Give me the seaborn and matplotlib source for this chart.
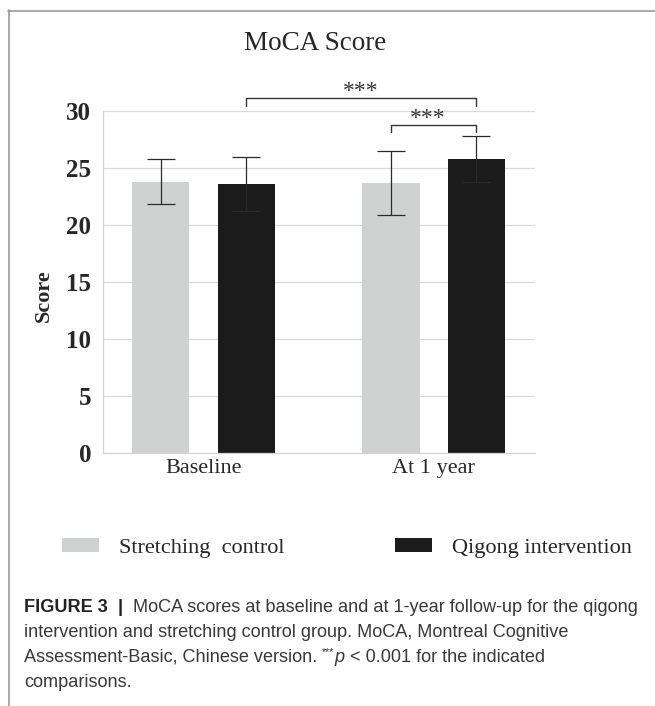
import pandas as pd
import matplotlib
matplotlib.use('Agg')
import matplotlib.pyplot as plt
from matplotlib.lines import Line2D
import seaborn as sns

sns.set_style('white')
plt.rcParams['font.family'] = ['Liberation Serif', 'DejaVu Serif']

# values (mean, SD)
timepoints = ['Baseline', 'At 1 year']
groups = ['Stretching  control', 'Qigong intervention']
stretch_mean = [23.8, 23.7]
stretch_sd = [2.0, 2.8]
qigong_mean = [23.6, 25.8]
qigong_sd = [2.4, 2.0]
colors = ['#D0D2D1', '#1B1B1B']

df = pd.DataFrame({
    'time': timepoints * 2,
    'group': [groups[0]] * 2 + [groups[1]] * 2,
    'score': stretch_mean + qigong_mean,
    'sd': stretch_sd + qigong_sd,
})

W, H = 655, 706
fig = plt.figure(figsize=(W / 100, H / 100), dpi=100)

def fx(px): return px / W
def fy(py): return 1 - py / H

ax = fig.add_axes([fx(103), fy(453), fx(535) - fx(103), fy(111) - fy(453)])
sns.barplot(data=df, x='time', y='score', hue='group', palette=colors,
            width=0.74, gap=0.33, errorbar=None, saturation=1, ax=ax,
            linewidth=0)

# error bars on top of the seaborn bars
for cont, g in zip(ax.containers, groups):
    sub = df[df['group'] == g]
    for bar, (_, row) in zip(cont, sub.iterrows()):
        xc = bar.get_x() + bar.get_width() / 2
        ax.errorbar(xc, row['score'], yerr=row['sd'], color='#2a2a2a',
                    elinewidth=0.9, capsize=10, capthick=0.9, zorder=5)

ax.set_ylim(0, 30)
ax.set_xlim(-0.437, 1.441)
ax.set_yticks([0, 5, 10, 15, 20, 25, 30])
ax.yaxis.grid(True, color='#D9D9D9', linewidth=0.9)
ax.set_axisbelow(True)
for s in ['top', 'right']:
    ax.spines[s].set_visible(False)
for s in ['left', 'bottom']:
    ax.spines[s].set_color('#D4D4D4')
    ax.spines[s].set_linewidth(0.9)
ax.tick_params(axis='y', length=0, pad=8.5, labelsize=18)
ax.tick_params(axis='x', length=0, pad=4, labelsize=16)
for lab in ax.get_yticklabels():
    lab.set_fontweight('bold')
ax.set_xlabel('')
ax.set_ylabel('')
fig.text(fx(44), fy(296), 'Score', rotation=90, ha='center', va='center',
         fontsize=16, fontweight='bold')

# significance brackets
def bracket(x1, x2, y, drop, dx=0):
    ax.plot([x1, x1, x2, x2], [y - drop, y, y, y - drop], color='#333333',
            lw=1.0, clip_on=False)
    ax.text((x1 + x2) / 2 + dx, y + 0.1, '***', ha='center', va='baseline',
            fontsize=17, color='#333333', clip_on=False)

b0 = [b.get_x() + b.get_width() / 2 for b in ax.containers[0]]
b1 = [b.get_x() + b.get_width() / 2 for b in ax.containers[1]]
bracket(b1[0], b1[1], 31.15, 0.7)
bracket(b0[1], b1[1], 28.75, 0.6, dx=-0.025)

# title
fig.text(fx(315), fy(43), 'MoCA Score', ha='center', va='center', fontsize=19.5)

# legend
sns.move_legend(ax, loc='center left', bbox_to_anchor=(fx(62), fy(548)),
                bbox_transform=fig.transFigure, ncol=2, frameon=False,
                title=None, fontsize=16, handlelength=1.67, handleheight=0.54,
                handletextpad=0.9, columnspacing=4.95, borderpad=0,
                borderaxespad=0)

# frame lines of the figure panel
fig.add_artist(Line2D([fx(8.5), fx(8.5)], [fy(10), 0], color='#9a9a9a', lw=1.2,
                      transform=fig.transFigure))
fig.add_artist(Line2D([fx(8), 1], [fy(10.5), fy(10.5)], color='#9a9a9a', lw=1.2,
                      transform=fig.transFigure))

# caption, written run by run so bold / italic / superscript can be mixed
renderer = fig.canvas.get_renderer()
cap_font = ['Liberation Sans', 'DejaVu Sans']

def runs(x0, y0, parts):
    x = x0
    for s, kw in parts:
        opts = dict(va='baseline', ha='left', family=cap_font, color='#383838')
        opts.update(kw)
        rise = opts.pop('rise', 0)
        t = fig.text(x, y0 + rise / H, s, **opts)
        x += t.get_window_extent(renderer).width / W

cs = 13.1
runs(fx(24), fy(612), [('FIGURE 3', dict(fontsize=cs, fontweight='bold', color='#222222')),
                       ('  |  ', dict(fontsize=cs, fontweight='bold', color='#222222')),
                       ('MoCA scores at baseline and at 1-year follow-up for the qigong', dict(fontsize=cs))])
runs(fx(24), fy(637), [('intervention and stretching control group. MoCA, Montreal Cognitive', dict(fontsize=cs))])
runs(fx(24), fy(662), [('Assessment-Basic, Chinese version. ', dict(fontsize=cs)),
                       ('***', dict(fontsize=7.5, rise=7)),
                       ('p', dict(fontsize=cs, style='italic')),
                       (' < 0.001 for the indicated', dict(fontsize=cs))])
runs(fx(24), fy(687), [('comparisons.', dict(fontsize=cs))])

fig.savefig('out.png', dpi=100)
